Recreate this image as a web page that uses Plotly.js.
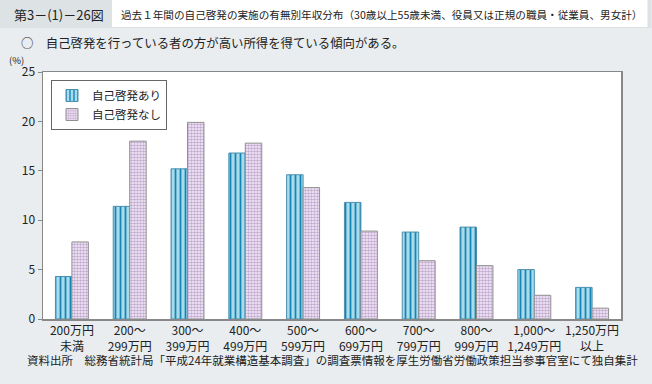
<!DOCTYPE html>
<html><head><meta charset="utf-8">
<script src="https://cdn.plot.ly/plotly-3.0.1.min.js"></script>
<style>html,body{margin:0;padding:0;background:#e9edef;}#chart{width:652px;height:384px;}</style>
</head><body><div id="chart"></div>
<script>
const categories = ["200万円<br>未満","200～<br>299万円","300～<br>399万円","400～<br>499万円","500～<br>599万円","600～<br>699万円","700～<br>799万円","800～<br>999万円","1,000～<br>1,249万円","1,250万円<br>以上"];
const withSelfDev = [4.3, 11.4, 15.2, 16.8, 14.6, 11.8, 8.8, 9.3, 5.0, 3.2];
const withoutSelfDev = [7.8, 18.0, 19.9, 17.8, 13.3, 8.9, 5.9, 5.4, 2.4, 1.1];
const seriesNames = ["自己啓発あり", "自己啓発なし"];
const yTicks = [0, 5, 10, 15, 20, 25];

const W = 652, H = 384, L = 43, R = 621.5, T = 72, B = 319;
const px = x => (x - L) / (R - L);
const py = y => (B - y) / (B - T);
const FONT = '"Noto Sans CJK JP", "Noto Sans", sans-serif';

const traces = [
  {type:'bar', name: seriesNames[0], x: categories, y: withSelfDev,
   marker:{color:'#a9dbeb', line:{color:'#4a8fae', width:1},
     pattern:{shape:'|', fgcolor:'#1385b6', bgcolor:'#a9dbeb', size:5, solidity:0.35}}},
  {type:'bar', name: seriesNames[1], x: categories, y: withoutSelfDev,
   marker:{color:'#efe8f3', line:{color:'#909090', width:1},
     pattern:{shape:'.', fgcolor:'#c4a9d3', bgcolor:'#f7f3f9', size:3, solidity:0.55}}}
];

const layout = {
  width: W, height: H,
  margin:{l:L, r:W-R, t:T, b:H-B, pad:0},
  paper_bgcolor:'#e9edef', plot_bgcolor:'#ffffff',
  font:{family:FONT, size:12, color:'#222'},
  barmode:'group', bargap:0.43, bargroupgap:0,
  showlegend:true,
  legend:{x:px(51), y:py(80), xanchor:'left', yanchor:'top', bgcolor:'#ffffff',
    bordercolor:'#666', borderwidth:1, font:{size:11.5, color:'#222'}, tracegroupgap:0,
    itemwidth:30},
  xaxis:{type:'category', showgrid:false, zeroline:false, showline:true, linecolor:'#888', linewidth:1.5,
    mirror:true, ticks:'', tickfont:{size:12, color:'#222'}, fixedrange:true},
  yaxis:{range:[0,25], tickvals:yTicks, showgrid:false, zeroline:false, showline:true, linecolor:'#888',
    linewidth:1.5, mirror:true, ticks:'outside', ticklen:4, tickcolor:'#888', tickfont:{size:12, color:'#222'},
    fixedrange:true},
  shapes:[
    {type:'rect', xref:'paper', yref:'paper', x0:px(0), x1:px(652), y0:py(28), y1:py(0), fillcolor:'#dde2e5', line:{width:0}, layer:'below'},
    {type:'rect', xref:'paper', yref:'paper', x0:px(112), x1:px(648), y0:py(27), y1:py(0), fillcolor:'#ffffff', line:{width:0}, layer:'below'}
  ],
  annotations:[
    {text:'第3－(1)－26図', xref:'paper', yref:'paper', x:px(13), y:py(14), xanchor:'left', yanchor:'middle', showarrow:false, borderpad:0, font:{size:13, color:'#222'}},
    {text:'過去１年間の自己啓発の実施の有無別年収分布（30歳以上55歳未満、役員又は正規の職員・従業員、男女計）', xref:'paper', yref:'paper', x:px(120), y:py(14), xanchor:'left', yanchor:'middle', showarrow:false, borderpad:0, font:{size:10.6, color:'#222'}},
    {text:'○　自己啓発を行っている者の方が高い所得を得ている傾向がある。', xref:'paper', yref:'paper', x:px(20), y:py(43), xanchor:'left', yanchor:'middle', showarrow:false, borderpad:0, font:{size:12.4, color:'#222'}},
    {text:'(%)', xref:'paper', yref:'paper', x:px(16), y:py(60), xanchor:'center', yanchor:'middle', showarrow:false, borderpad:0, font:{size:9.5, color:'#222'}},
    {text:'資料出所　総務省統計局「平成24年就業構造基本調査」の調査票情報を厚生労働省労働政策担当参事官室にて独自集計', xref:'paper', yref:'paper', x:px(26), y:py(360), xanchor:'left', yanchor:'middle', showarrow:false, borderpad:0, font:{size:11.5, color:'#222'}}
  ]
};

Plotly.newPlot('chart', traces, layout, {displayModeBar:false, staticPlot:true});
</script></body></html>
